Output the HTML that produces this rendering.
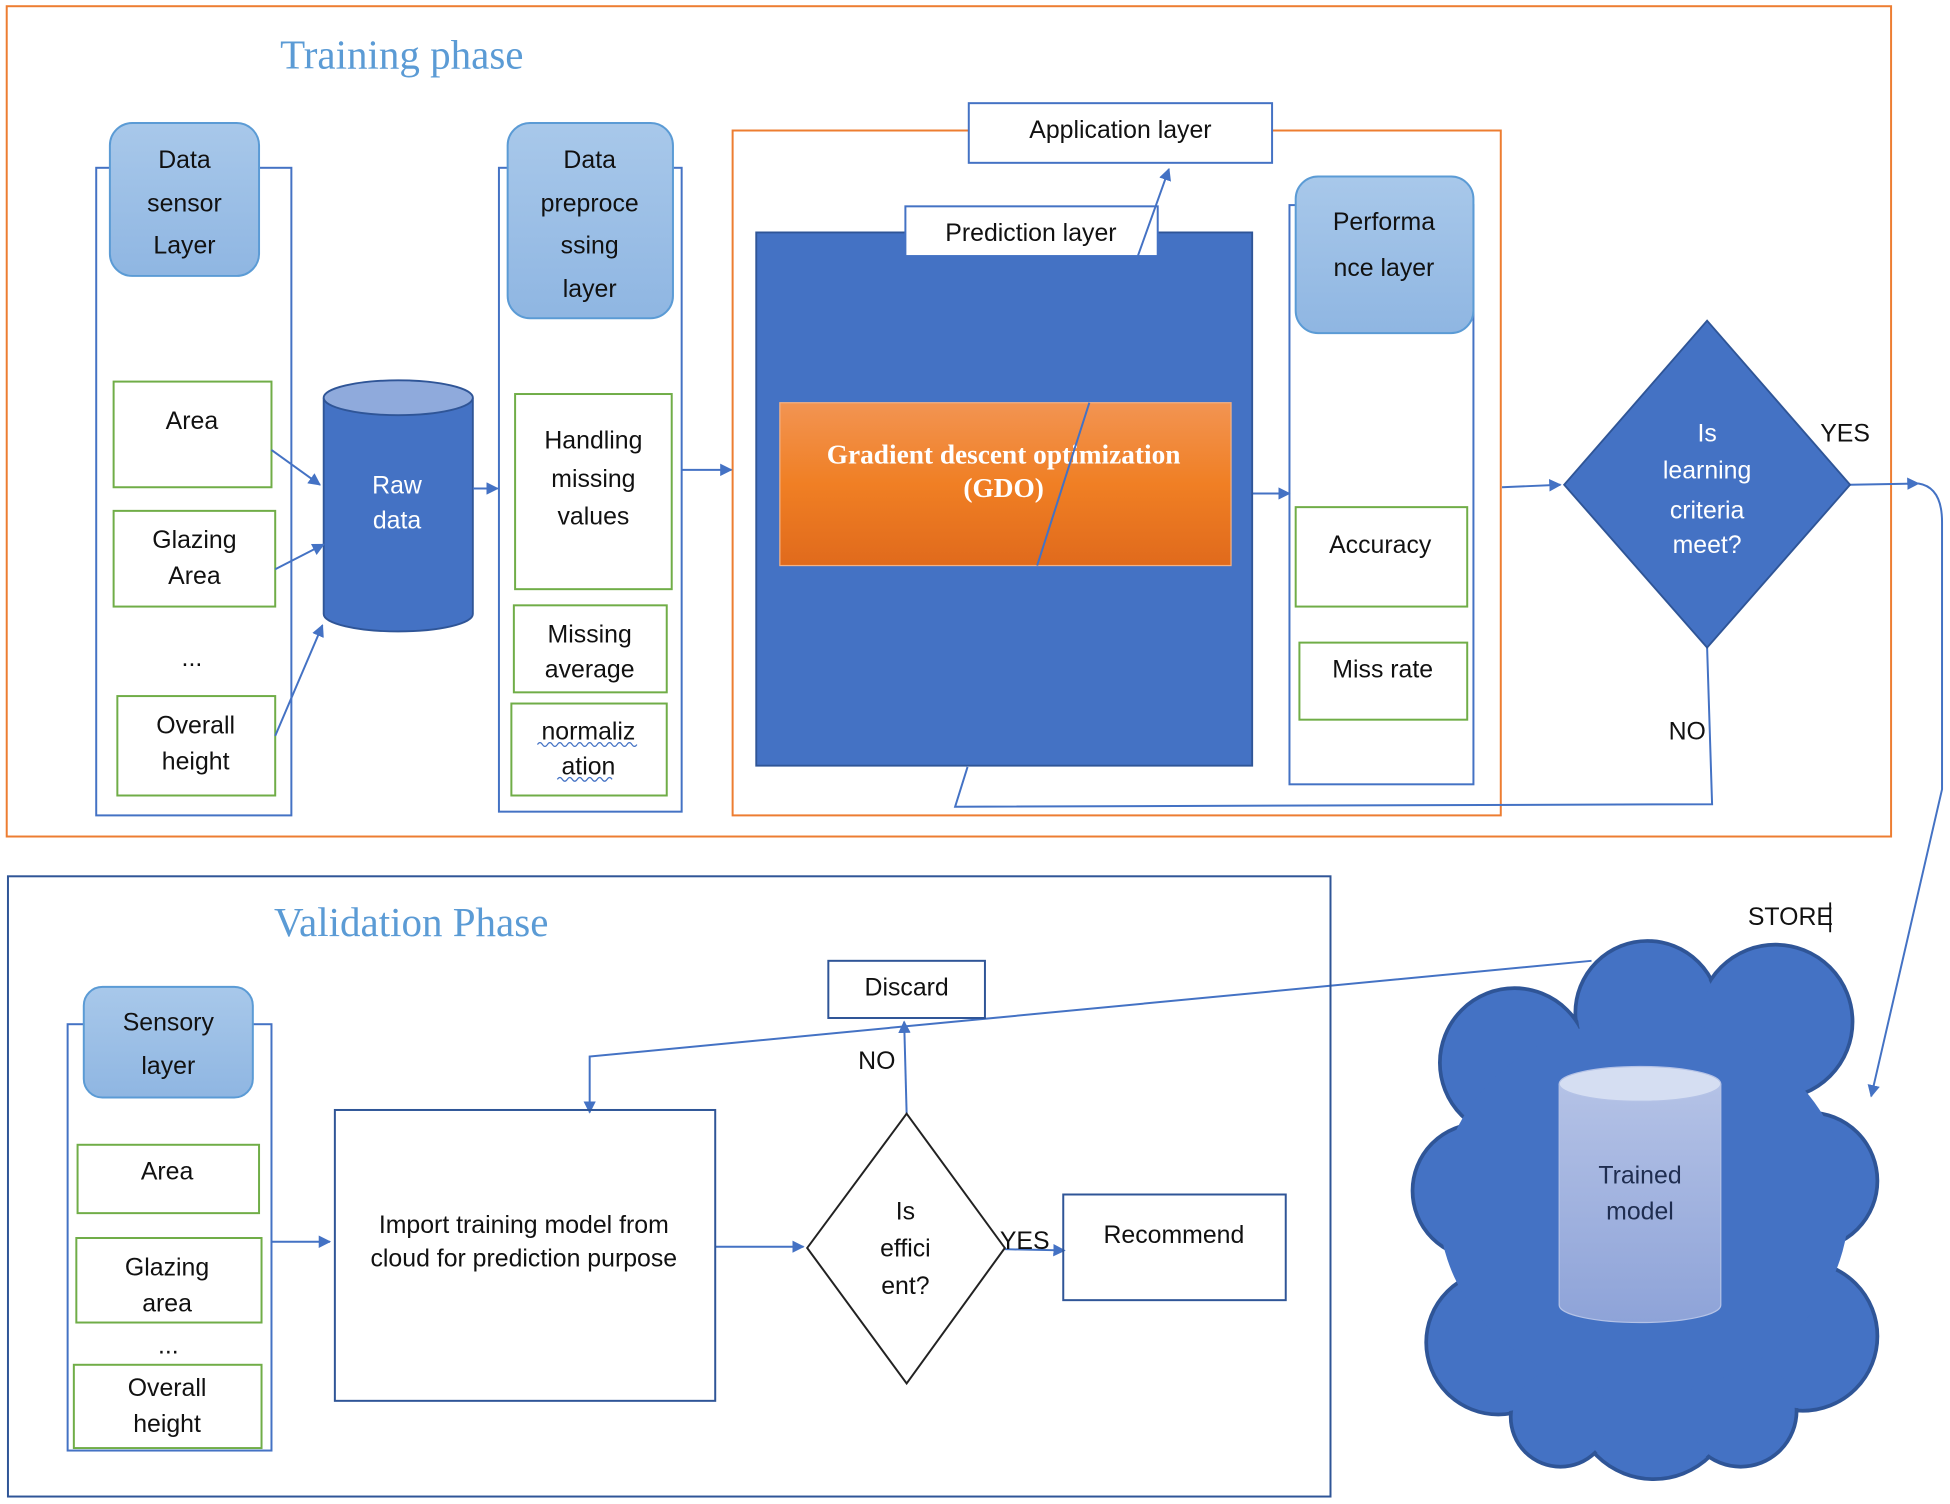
<!DOCTYPE html>
<html><head><meta charset="utf-8"><style>
html,body{margin:0;padding:0;background:#fff;}
svg{display:block;}
text{font-family:"Liberation Sans",sans-serif;font-size:20px;fill:#111;text-anchor:middle;}
.w{fill:#fff;}
.t{font-family:"Liberation Serif",serif;font-size:33px;fill:#5b9bd5;text-anchor:start;}
</style></head><body>
<svg width="1950" height="1504" viewBox="0 0 1568 1210" xmlns="http://www.w3.org/2000/svg">
<defs>
<marker id="a" markerWidth="10" markerHeight="10" refX="9" refY="5" orient="auto" markerUnits="userSpaceOnUse"><path d="M0,0 L10,5 L0,10 z" fill="#4472c4"/></marker>
<linearGradient id="hb" x1="0" y1="0" x2="0" y2="1"><stop offset="0" stop-color="#a8c8ea"/><stop offset="1" stop-color="#8fb6e2"/></linearGradient>
<linearGradient id="og" x1="0" y1="0" x2="0" y2="1"><stop offset="0" stop-color="#f29452"/><stop offset="0.5" stop-color="#f07f24"/><stop offset="1" stop-color="#e06a1c"/></linearGradient>
<linearGradient id="cy" x1="0" y1="0" x2="0" y2="1"><stop offset="0" stop-color="#b4c2e6"/><stop offset="1" stop-color="#8ea3d8"/></linearGradient>
</defs>
<g fill="none" stroke-width="1.6">
<rect x="5" y="5" width="1516" height="668" stroke="#ed7d31"/>
<rect x="589" y="105" width="618" height="551" stroke="#ed7d31"/>
<rect x="77" y="135" width="157" height="521" stroke="#4472c4"/>
<rect x="401" y="135" width="147" height="518" stroke="#4472c4"/>
<rect x="1037" y="165" width="148" height="466" stroke="#4472c4"/>
<rect x="54" y="824" width="164" height="343" stroke="#4472c4"/>
<g stroke="#70ad47">
<rect x="91" y="307" width="127" height="85"/>
<rect x="91" y="411" width="130" height="77"/>
<rect x="94" y="560" width="127" height="80"/>
<rect x="414" y="317" width="126" height="157"/>
<rect x="413" y="487" width="123" height="70"/>
<rect x="411" y="566" width="125" height="74"/>
<rect x="1042" y="408" width="138" height="80"/>
<rect x="1045" y="517" width="135" height="62"/>
<rect x="62" y="921" width="146" height="55"/>
<rect x="61" y="996" width="149" height="68"/>
<rect x="59" y="1098" width="151" height="67"/>
</g>
</g>
<g fill="url(#hb)" stroke="#5b9bd5" stroke-width="1.6">
<rect x="88" y="99" width="120" height="123" rx="18"/>
<rect x="408" y="99" width="133" height="157" rx="18"/>
<rect x="1042" y="142" width="143" height="126" rx="18"/>
<rect x="67" y="794" width="136" height="89" rx="15"/>
</g>
<text x="148" y="135">Data</text><text x="148" y="170">sensor</text><text x="148" y="204">Layer</text>
<text x="474" y="135">Data</text><text x="474" y="170">preproce</text><text x="474" y="204">ssing</text><text x="474" y="239">layer</text>
<text x="1113" y="185">Performa</text><text x="1113" y="222">nce layer</text>
<text x="135" y="829">Sensory</text><text x="135" y="864">layer</text>
<text x="154" y="345">Area</text>
<text x="156" y="441">Glazing</text><text x="156" y="470">Area</text>
<text x="154" y="536">...</text>
<text x="157" y="590">Overall</text><text x="157" y="619">height</text>
<text x="477" y="361">Handling</text><text x="477" y="392">missing</text><text x="477" y="422">values</text>
<text x="474" y="517">Missing</text><text x="474" y="545">average</text>
<text x="473" y="595">normaliz</text><text x="473" y="623">ation</text>
<path d="M432,599 q2,-3 4,0 t4,0 t4,0 t4,0 t4,0 t4,0 t4,0 t4,0 t4,0 t4,0 t4,0 t4,0 t4,0 t4,0 t4,0 t4,0 t4,0 t4,0 t4,0 t4,0 M448,627 q2,-3 4,0 t4,0 t4,0 t4,0 t4,0 t4,0 t4,0 t4,0 t4,0 t4,0 t4,0" fill="none" stroke="#4472c4" stroke-width="1"/>
<text x="1110" y="445">Accuracy</text>
<text x="1112" y="545">Miss rate</text>
<text x="134" y="949">Area</text>
<text x="134" y="1026">Glazing</text><text x="134" y="1055">area</text>
<text x="135" y="1089">...</text>
<text x="134" y="1123">Overall</text><text x="134" y="1152">height</text>
<path d="M260,320 L260,494 A60,14 0 0 0 380,494 L380,320" fill="#4472c4" stroke="#2f5597" stroke-width="1.5"/>
<ellipse cx="320" cy="320" rx="60" ry="14" fill="#8faadc" stroke="#2f5597" stroke-width="1.5"/>
<text class="w" x="319" y="397">Raw</text><text class="w" x="319" y="425">data</text>
<g stroke="#4472c4" stroke-width="1.6" fill="none" marker-end="url(#a)">
<line x1="218" y1="362" x2="257" y2="390"/>
<line x1="221" y1="458" x2="260" y2="438"/>
<line x1="221" y1="592" x2="259" y2="503"/>
<line x1="380" y1="393" x2="400" y2="393"/>
<line x1="548" y1="378" x2="588" y2="378"/>
<line x1="1007" y1="397" x2="1037" y2="397"/>
<line x1="1208" y1="392" x2="1255" y2="390"/>
<line x1="1488" y1="390" x2="1543" y2="389"/>
<path d="M1543,389 Q1562,392 1562,420 L1562,635 L1505,882"/>
<line x1="218" y1="999" x2="265" y2="999"/>
<line x1="575" y1="1003" x2="646" y2="1003"/>
<line x1="808" y1="1005" x2="856" y2="1006"/>
<line x1="729" y1="896" x2="727" y2="822"/>
<path d="M1280,773 L474,850 L474,895"/>
</g>
<path d="M1373,521 L1377,647 L768,649 L778,617" fill="none" stroke="#4472c4" stroke-width="1.6"/>
<rect x="608" y="187" width="399" height="429" fill="#4472c4" stroke="#2f5597" stroke-width="1.5"/>
<rect x="779" y="83" width="244" height="48" fill="#fff" stroke="#4472c4" stroke-width="1.6"/>
<text x="901" y="111">Application layer</text>
<rect x="728" y="166" width="203" height="40" fill="#fff" stroke="#4472c4" stroke-width="1.6"/>
<text x="829" y="194">Prediction layer</text>
<line x1="915" y1="206" x2="940" y2="136" stroke="#4472c4" stroke-width="1.6" marker-end="url(#a)"/>
<rect x="627" y="324" width="363" height="131" fill="url(#og)" stroke="#f4b183" stroke-width="1"/>
<text x="807" y="373" style="font-family:'Liberation Serif',serif;font-weight:bold;font-size:22px;fill:#fff">Gradient descent optimization</text>
<text x="807" y="400" style="font-family:'Liberation Serif',serif;font-weight:bold;font-size:22px;fill:#fff">(GDO)</text>
<line x1="876" y1="324" x2="834" y2="455" stroke="#4472c4" stroke-width="1.6"/>
<polygon points="1373,258 1488,390 1373,521 1258,390" fill="#4472c4" stroke="#2f5597" stroke-width="1.5"/>
<text class="w" x="1373" y="355">Is</text><text class="w" x="1373" y="385">learning</text><text class="w" x="1373" y="417">criteria</text><text class="w" x="1373" y="445">meet?</text>
<text x="1484" y="355">YES</text>
<text x="1357" y="595">NO</text>
<text class="t" x="225" y="55">Training phase</text>
<rect x="6" y="705" width="1064" height="499" fill="none" stroke="#2f5597" stroke-width="1.6"/>
<text class="t" x="220" y="753">Validation Phase</text>
<rect x="269" y="893" width="306" height="234" fill="none" stroke="#2f5597" stroke-width="1.6"/>
<text x="421" y="992">Import training model from</text>
<text x="421" y="1019">cloud for prediction purpose</text>
<polygon points="729,896 808,1004 729,1113 649,1004" fill="#fff" stroke="#222" stroke-width="1.6"/>
<text x="728" y="981">Is</text><text x="728" y="1011">effici</text><text x="728" y="1041">ent?</text>
<text x="824" y="1005">YES</text>
<rect x="855" y="961" width="179" height="85" fill="none" stroke="#2f5597" stroke-width="1.6"/>
<text x="944" y="1000">Recommend</text>
<text x="705" y="860">NO</text>
<rect x="666" y="773" width="126" height="46" fill="#fff" stroke="#2f5597" stroke-width="1.6"/>
<text x="729" y="801">Discard</text>
<text x="1440" y="744">STORE</text>
<line x1="1472" y1="726" x2="1472" y2="750" stroke="#111" stroke-width="1.5"/>
<g stroke="#2f5597" stroke-width="3" fill="#4472c4">
<circle cx="1325" cy="815" r="58"/><circle cx="1428" cy="822" r="62"/><circle cx="1218" cy="855" r="60"/>
<circle cx="1190" cy="958" r="54"/><circle cx="1455" cy="950" r="55"/><circle cx="1450" cy="1075" r="60"/>
<circle cx="1205" cy="1080" r="58"/><circle cx="1330" cy="1125" r="65"/><circle cx="1255" cy="1140" r="40"/><circle cx="1400" cy="1135" r="45"/>
</g>
<g fill="#4472c4">
<circle cx="1325" cy="815" r="56"/><circle cx="1428" cy="822" r="60"/><circle cx="1218" cy="855" r="58"/>
<circle cx="1190" cy="958" r="52"/><circle cx="1455" cy="950" r="53"/><circle cx="1450" cy="1075" r="58"/>
<circle cx="1205" cy="1080" r="56"/><circle cx="1330" cy="1125" r="63"/><circle cx="1255" cy="1140" r="38"/><circle cx="1400" cy="1135" r="43"/>
<ellipse cx="1322" cy="970" rx="165" ry="150"/>
</g>
<path d="M1254,872 L1254,1050 A65,14 0 0 0 1384,1050 L1384,872" fill="url(#cy)" stroke="#b4c2e6" stroke-width="1"/>
<ellipse cx="1319" cy="872" rx="65" ry="14" fill="#d5def2" stroke="#b4c2e6" stroke-width="1"/>
<text x="1319" y="952" style="fill:#1f2d50">Trained</text><text x="1319" y="981" style="fill:#1f2d50">model</text>
</svg>
</body></html>
